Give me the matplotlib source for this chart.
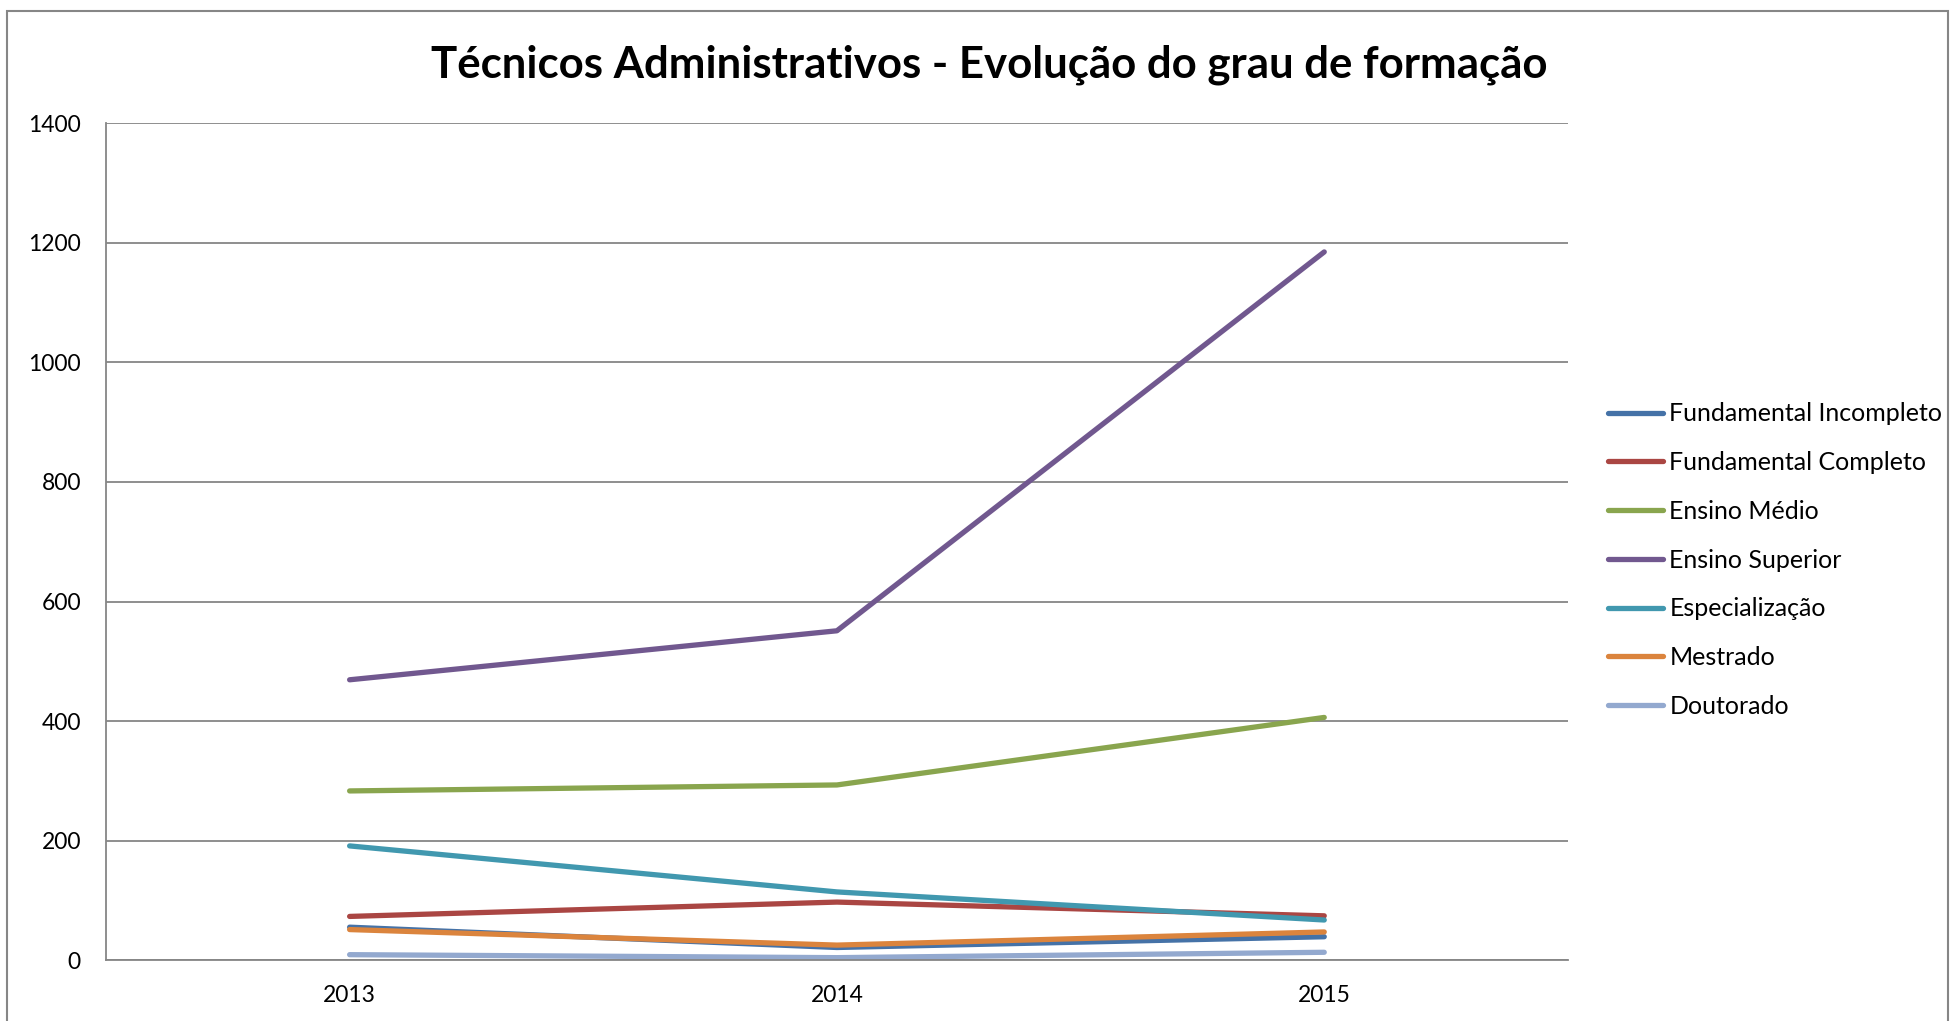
import matplotlib.pyplot as plt
from matplotlib.patches import Rectangle

plt.rcParams['font.family'] = ['Lato', 'DejaVu Sans']

anos = ['2013', '2014', '2015']
fund_incompleto = [55, 21, 39]
fund_completo = [73, 97, 74]
ensino_medio = [283, 293, 406]
ensino_superior = [469, 551, 1185]
especializacao = [191, 114, 67]
mestrado = [51, 25, 47]
doutorado = [9, 4, 13]

series = [
    ("Fundamental Incompleto", fund_incompleto, '#4572A7'),
    ("Fundamental Completo", fund_completo, '#AA4643'),
    ("Ensino Médio", ensino_medio, '#89A54E'),
    ("Ensino Superior", ensino_superior, '#71588F'),
    ("Especialização", especializacao, '#4198AF'),
    ("Mestrado", mestrado, '#DB843D'),
    ("Doutorado", doutorado, '#93A9CF'),
]

fig = plt.figure(figsize=(19.55, 10.21), dpi=100)
ax = fig.add_axes([0.0542, 0.0597, 0.7478, 0.8194])

x = range(len(anos))
for nome, vals, cor in series:
    ax.plot(x, vals, color=cor, lw=3.8, label=nome, solid_capstyle='round')

ax.set_xlim(-0.5, 2.5)
ax.set_ylim(0, 1400)
ax.set_yticks(range(0, 1401, 200))
ax.set_xticks(list(x))
ax.set_xticklabels(anos)
ax.grid(axis='y', color='#868686', lw=1.3)
ax.set_axisbelow(True)
for s in ['top', 'right']:
    ax.spines[s].set_visible(False)
for s in ['left', 'bottom']:
    ax.spines[s].set_color('#868686')
    ax.spines[s].set_linewidth(1.3)
ax.tick_params(axis='both', length=0, labelsize=16.5)
ax.tick_params(axis='y', pad=18)
ax.tick_params(axis='x', pad=18)

fig.text(0.506, 0.937, "Técnicos Administrativos - Evolução do grau de formação",
         ha='center', va='center', fontsize=31.5, fontweight='bold')

fig.legend(loc='center left', bbox_to_anchor=(1608 / 1955, 1 - 560 / 1021),
           frameon=False, fontsize=18, handlelength=2.2, handletextpad=0.25,
           labelspacing=1.03, borderpad=0, borderaxespad=0)

fig.patches.append(Rectangle((7 / 1955, -0.05), 1941 / 1955, 1.05 - 11 / 1021,
                             transform=fig.transFigure, fill=False,
                             edgecolor='#868686', lw=1.5))

fig.savefig('out.png', dpi=100)
